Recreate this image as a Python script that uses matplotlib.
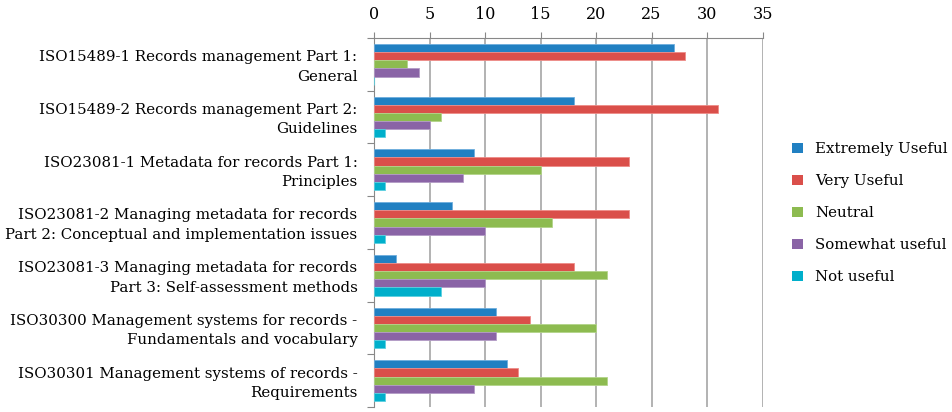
import numpy as np
import matplotlib.pyplot as plt
from matplotlib.patches import Patch

# Survey results: usefulness of each records management standard
standards = [
    "ISO15489-1 Records management Part 1:\nGeneral",
    "ISO15489-2 Records management Part 2:\nGuidelines",
    "ISO23081-1 Metadata for records Part 1:\nPrinciples",
    "ISO23081-2 Managing metadata for records\nPart 2: Conceptual and implementation issues",
    "ISO23081-3 Managing metadata for records\nPart 3: Self-assessment methods",
    "ISO30300 Management systems for records -\nFundamentals and vocabulary",
    "ISO30301 Management systems of records -\nRequirements",
]
ratings = ["Extremely Useful", "Very Useful", "Neutral", "Somewhat useful", "Not useful"]
extremely_useful = [27, 18, 9, 7, 2, 11, 12]
very_useful = [28, 31, 23, 23, 18, 14, 13]
neutral = [3, 6, 15, 16, 21, 20, 21]
somewhat_useful = [4, 5, 8, 10, 10, 11, 9]
not_useful = [0, 1, 1, 1, 6, 1, 1]
x_ticks = [0, 5, 10, 15, 20, 25, 30, 35]

series = [extremely_useful, very_useful, neutral, somewhat_useful, not_useful]
colors = ["#2180C2", "#DA4F4A", "#8DBB50", "#8A64A6", "#00AFCB"]
edges = ["#6EAEDD", "#EE8C88", "#B3D48A", "#B39BC6", "#5CCFE0"]

plt.rcParams['font.family'] = ['DejaVu Serif']
plt.rcParams['font.size'] = 11

fig = plt.figure(figsize=(9.52, 4.12), dpi=100)
ax = fig.add_axes([0.393, 0.012, 0.408, 0.896])

n_cat = len(standards)
bar_h = 0.155
y = np.arange(n_cat)
for i, (vals, c, ec) in enumerate(zip(series, colors, edges)):
    offs = (i - 2) * bar_h
    ax.barh(y + offs, vals, height=bar_h, color=c, edgecolor=ec,
            linewidth=0.6, zorder=3, label=ratings[i])

ax.set_xlim(0, 35)
ax.set_ylim(n_cat - 0.5, -0.5)
ax.set_xticks(x_ticks)
ax.xaxis.tick_top()
ax.tick_params(axis='x', direction='out', length=4, color='#888888',
               pad=7, labelsize=11.5)
ax.grid(axis='x', color='#A6A6A6', linewidth=1.2, zorder=0)

# Category labels centred, separator ticks between groups
ax.set_yticks(np.arange(n_cat + 1) - 0.5)
ax.set_yticklabels([])
ax.tick_params(axis='y', direction='out', length=5, color='#888888')
for yi, label in zip(y, standards):
    ax.text(-1.5, yi + 0.05, label, ha='right', va='center', fontsize=10.8,
            linespacing=1.5)

for side in ['right', 'bottom']:
    ax.spines[side].set_visible(False)
ax.spines['top'].set_color('#888888')
ax.spines['left'].set_color('#888888')

handles = [Patch(facecolor=c, edgecolor='none') for c in colors]
fig.legend(handles, ratings, loc='center left', bbox_to_anchor=(0.818, 0.483),
           frameon=False, fontsize=10.8, handlelength=0.7, handleheight=0.7,
           handletextpad=0.8, labelspacing=1.2)

fig.savefig("out.png", dpi=100)
